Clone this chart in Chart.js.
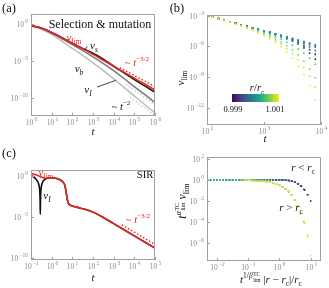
<!DOCTYPE html>
<html>
<head>
<meta charset="utf-8">
<script src="https://cdn.jsdelivr.net/npm/chart.js@4.4.1/dist/chart.umd.min.js"></script>
<style>
html, body { margin: 0; padding: 0; background: #fff; }
#fig { position: relative; width: 329px; height: 288px; overflow: hidden; }
canvas { position: absolute; }
.t { position: absolute; white-space: nowrap; font-family: "Liberation Serif", "DejaVu Serif", serif; line-height: 1; transform: translate(-50%, -50%); color: #111; }
.i { font-style: italic; }
.red { color: #e8261f; }
.rot { transform: translate(-50%, -50%) rotate(-90deg); }
sub, sup { font-size: 68%; line-height: 0; }
.stk { display: inline-flex; flex-direction: column; font-size: 50%; line-height: 1; vertical-align: 7px; margin-left: 0.5px; }
.cbar { position: absolute; left: 232px; top: 94px; width: 47px; height: 8px;
  background: linear-gradient(to right, #440154, #482475, #414487, #355f8d, #2a788e, #21918c, #22a884, #44bf70, #7ad151, #bddf26, #fde725); }
</style>
</head>
<body>
<div id="fig">
  <canvas id="ca" width="164" height="144" style="left:0;top:0"></canvas>
  <canvas id="cb" width="165" height="144" style="left:164px;top:0"></canvas>
  <canvas id="cc" width="164" height="144" style="left:0;top:144px"></canvas>
  <canvas id="cd" width="165" height="144" style="left:164px;top:144px"></canvas>

  <div class="t" style="left:9px;top:8px;font-size:12.5px">(a)</div>
  <div class="t" style="left:100px;top:24px;font-size:12px">Selection &amp; mutation</div>
  <div class="t red" style="left:74px;top:37px;font-size:11px"><span class="i">v</span><sub>lim</sub></div>
  <div class="t" style="left:94px;top:45px;font-size:11px"><span class="i">v<sub>s</sub></span></div>
  <div class="t" style="left:79px;top:68px;font-size:11px"><span class="i">v<sub>b</sub></span></div>
  <div class="t" style="left:88px;top:89px;font-size:11px"><span class="i">v<sub>I</sub></span></div>
  <div class="t red" style="left:137px;top:63px;font-size:10.5px">~ <span class="i">t</span><sup>−3/2</sup></div>
  <div class="t" style="left:121px;top:107px;font-size:10.5px">~ <span class="i">t</span><sup>−2</sup></div>
  <div class="t i" style="left:93px;top:131px;font-size:11px">t</div>

  <div class="t" style="left:177px;top:8px;font-size:12.5px">(b)</div>
  <div class="t rot" style="left:180px;top:78px;font-size:11px"><span class="i">v</span><sub>lim</sub></div>
  <div class="t i" style="left:265px;top:138px;font-size:11px">t</div>
  <div class="t" style="left:257px;top:88px;font-size:10.5px"><span class="i">r</span>/<span class="i">r</span><sub>c</sub></div>
  <div class="cbar"></div>
  <div class="t" style="left:233px;top:109px;font-size:8.5px">0.999</div>
  <div class="t" style="left:275px;top:109px;font-size:8.5px">1.001</div>

  <div class="t" style="left:9px;top:153px;font-size:12.5px">(c)</div>
  <div class="t red" style="left:46px;top:172px;font-size:11px"><span class="i">v</span><sub>lim</sub></div>
  <div class="t" style="left:47px;top:195px;font-size:11px"><span class="i">v<sub>I</sub></span></div>
  <div class="t" style="left:145px;top:175px;font-size:10.5px">SIR</div>
  <div class="t red" style="left:138px;top:220px;font-size:10.5px">~ <span class="i">t</span><sup>−3/2</sup></div>
  <div class="t i" style="left:93px;top:277px;font-size:11px">t</div>

  <div class="t" style="left:303px;top:167px;font-size:11px"><span class="i">r</span> &lt; <span class="i">r</span><sub>c</sub></div>
  <div class="t" style="left:291px;top:207px;font-size:11px"><span class="i">r</span> &gt; <span class="i">r</span><sub>c</sub></div>
  <div class="t rot" style="left:181px;top:201px;font-size:12px"><span class="i">t</span><sup><span class="i">α</span></sup><span class="stk"><span>TC</span><span>lim</span></span> <span class="i">v</span><sub>lim</sub></div>
  <div class="t" style="left:271px;top:278px;font-size:11px"><span class="i">t</span><sup>1/<span class="i">β</span></sup><span class="stk"><span>TC</span><span>lim</span></span> |<span class="i">r</span> − <span class="i">r</span><sub>c</sub>|/<span class="i">r</span><sub>c</sub></div>
</div>

<script>
// ---- panel (a): log10 t and log10 v ----
const aLogT = [0, 0.5, 1, 1.5, 2, 2.5, 3, 3.5, 4, 4.5, 5, 5.5, 6];
const aLim = [-0.2, -0.55, -1.15, -1.85, -2.6, -3.35, -4.1, -4.9, -5.7, -6.5, -7.3, -8.1, -8.9];
const aVs = [-0.2, -0.55, -1.15, -1.85, -2.6, -3.3, -3.95, -4.75, -5.7, -6.6, -7.5, -8.35, -9.2];
const aVb = [-0.25, -0.6, -1.25, -2.0, -2.8, -3.6, -4.45, -5.35, -6.3, -7.35, -8.45, -9.5, -10.6];
const aVi = [-0.3, -0.7, -1.45, -2.35, -3.3, -4.25, -5.25, -6.3, -7.4, -8.55, -9.7, -10.85, -12.0];
const aGuide32 = [[4.3, -5.9], [6, -8.45]];
const aGuide2a = [[4.6, -8.1], [6, -10.9]];
const aGuide2b = [[4.8, -9.9], [6, -12.3]];
const aPointS = [[2.72, -3.05], [2.62, -3.5]];
const aPointI = [[3.2, -8.5], [4.1, -7.6]];
const aXTicks = [0, 1, 2, 3, 4, 5, 6];
const aYTicks = [0, -5, -10];

// ---- panel (b): r/rc values, log10 t grid and log10 v_lim per series ----
const bRatio = [0.999, 0.9992, 0.9994, 0.9996, 0.9998, 0.99995, 1.00005, 1.0002, 1.0004, 1.0006, 1.0008, 1.001];
const bColors = ['#440154', '#482475', '#414487', '#355f8d', '#2a788e', '#23898e', '#1f968b', '#22a884', '#44bf70', '#7ad151', '#bddf26', '#fde725'];
const bLogT = [2.0, 2.1, 2.2, 2.3, 2.4, 2.5, 2.6, 2.7, 2.8, 2.9, 3.0, 3.1, 3.2, 3.3, 3.4, 3.5, 3.6, 3.7, 3.8, 3.9, 4.0];
const bV = [
  [-3.00, -3.15, -3.30, -3.45, -3.60, -3.75, -3.90, -4.05, -4.20, -4.35, -4.49, -4.64, -4.80, -5.00, -5.22, -5.47, -5.78, -6.15, -6.65, -7.25, -8.00],
  [-3.00, -3.15, -3.30, -3.45, -3.60, -3.75, -3.90, -4.05, -4.20, -4.35, -4.50, -4.64, -4.79, -4.95, -5.15, -5.37, -5.62, -5.93, -6.30, -6.80, -7.40],
  [-3.00, -3.15, -3.30, -3.45, -3.60, -3.75, -3.90, -4.05, -4.20, -4.35, -4.50, -4.65, -4.80, -4.94, -5.10, -5.29, -5.50, -5.75, -6.05, -6.40, -6.88],
  [-3.00, -3.15, -3.30, -3.45, -3.60, -3.75, -3.90, -4.05, -4.20, -4.35, -4.50, -4.65, -4.80, -4.95, -5.10, -5.24, -5.40, -5.60, -5.82, -6.07, -6.38],
  [-3.00, -3.15, -3.30, -3.45, -3.60, -3.75, -3.90, -4.05, -4.20, -4.35, -4.50, -4.65, -4.80, -4.95, -5.10, -5.25, -5.40, -5.54, -5.69, -5.85, -6.05],
  [-3.00, -3.15, -3.30, -3.45, -3.60, -3.75, -3.90, -4.05, -4.20, -4.35, -4.50, -4.65, -4.80, -4.95, -5.10, -5.25, -5.40, -5.55, -5.70, -5.85, -6.00],
  [-3.00, -3.15, -3.30, -3.45, -3.60, -3.75, -3.90, -4.05, -4.20, -4.35, -4.50, -4.66, -4.81, -4.97, -5.13, -5.29, -5.46, -5.63, -5.81, -6.00, -6.20],
  [-3.00, -3.15, -3.30, -3.45, -3.60, -3.76, -3.91, -4.07, -4.23, -4.39, -4.56, -4.73, -4.91, -5.10, -5.30, -5.52, -5.76, -6.05, -6.35, -6.70, -7.10],
  [-3.00, -3.15, -3.31, -3.46, -3.62, -3.78, -3.94, -4.11, -4.28, -4.46, -4.65, -4.85, -5.07, -5.31, -5.60, -5.90, -6.25, -6.65, -7.15, -7.75, -8.50],
  [-3.01, -3.16, -3.32, -3.48, -3.64, -3.81, -3.98, -4.16, -4.35, -4.55, -4.77, -5.01, -5.30, -5.60, -5.95, -6.35, -6.85, -7.45, -8.20, -9.05, -9.95],
  [-3.01, -3.17, -3.33, -3.49, -3.66, -3.83, -4.01, -4.20, -4.40, -4.62, -4.86, -5.15, -5.45, -5.80, -6.20, -6.70, -7.30, -8.05, -8.90, -9.95, -11.25],
  [-3.02, -3.18, -3.34, -3.51, -3.68, -3.86, -4.05, -4.25, -4.47, -4.71, -5.00, -5.30, -5.65, -6.05, -6.55, -7.15, -7.90, -8.75, -9.80, -11.25, -13.20]
];
const bXTicks = [2, 3, 4];
const bYTicks = [-3, -6, -9, -12];

// ---- panel (c): SIR, log10 t and log10 v ----
const cLogT = [-1.0, -0.9, -0.8, -0.7, -0.62, -0.58, -0.56, -0.55, -0.54, -0.52, -0.48, -0.42, -0.35, -0.25, -0.1, 0.0, 0.2, 0.35, 0.5, 0.6, 0.65, 0.7, 0.75, 0.8, 0.85, 0.9, 1.0, 1.3, 1.6, 2.0, 2.5, 3.0, 3.5, 4.0, 4.5, 5.0];
const cVi = [0.0, -0.1, -0.3, -0.6, -1.1, -1.8, -3.0, -4.7, -3.0, -1.8, -1.1, -0.7, -0.5, -0.35, -0.27, -0.25, -0.3, -0.42, -0.65, -0.95, -1.3, -2.0, -2.8, -3.3, -3.5, -3.6, -3.7, -3.9, -4.1, -4.45, -5.1, -5.85, -6.6, -7.35, -8.1, -8.85];
const cLimT = [-1.0, -0.8, -0.6, -0.5, -0.4, -0.3, -0.1, 0.0, 0.2, 0.35, 0.5, 0.6, 0.65, 0.7, 0.75, 0.8, 0.85, 0.9, 1.0, 1.3, 1.6, 2.0, 2.5, 3.0, 3.5, 4.0, 4.5, 5.0];
const cLim = [0.3, 0.15, -0.05, -0.15, -0.25, -0.3, -0.27, -0.25, -0.3, -0.42, -0.65, -0.95, -1.3, -2.0, -2.8, -3.3, -3.5, -3.6, -3.7, -3.9, -4.1, -4.45, -5.1, -5.85, -6.6, -7.35, -8.1, -8.85];
const cGuide32 = [[3.4, -6.0], [5.0, -8.4]];
const cXTicks = [-1, 0, 1, 2, 3, 4, 5];
const cYTicks = [0, -5, -10];

// ---- panel (d): rescaling exponents, ticks ----
const dAlpha = 1.5;
const dBeta = 1;
const dXTicks = [-2, -1, 0, 1];
const dYTicks = [2, 0, -2, -4, -6];

const RED = '#e8261f';
const FONT = '"Liberation Serif", "DejaVu Serif", serif';

function pts(lt, lv) {
    return lt.map(function (e, i) { return { x: Math.pow(10, e), y: Math.pow(10, lv[i]) }; });
}
function pairs(p) {
    return p.map(function (q) { return { x: Math.pow(10, q[0]), y: Math.pow(10, q[1]) }; });
}

function drawPow(ctx, exp, x, y, align) {
    const sup = exp < 0 ? '\u2212' + (-exp) : String(exp);
    ctx.font = '7.5px ' + FONT;
    const wb = ctx.measureText('10').width;
    ctx.font = '5.5px ' + FONT;
    const ws = ctx.measureText(sup).width;
    const w = wb + 1.2 + ws;
    const x0 = align === 'right' ? x - w : x - w / 2;
    ctx.textAlign = 'left';
    ctx.textBaseline = 'middle';
    ctx.font = '7.5px ' + FONT;
    ctx.fillText('10', x0, y + 1);
    ctx.font = '5.5px ' + FONT;
    ctx.fillText(sup, x0 + wb + 1.2, y - 2.5);
}

function framePlugin(xExp, yExp) {
    return {
        id: 'frame',
        afterDraw: function (chart) {
            const ctx = chart.ctx;
            const a = chart.chartArea;
            const sx = chart.scales.x;
            const sy = chart.scales.y;
            ctx.save();
            ctx.strokeStyle = '#a0a0a0';
            ctx.lineWidth = 1;
            ctx.strokeRect(Math.round(a.left) + 0.5, Math.round(a.top) + 0.5,
                Math.round(a.right - a.left) - 1, Math.round(a.bottom - a.top) - 1);
            ctx.fillStyle = '#8a8a8a';
            ctx.beginPath();
            xExp.forEach(function (e) {
                const px = Math.round(sx.getPixelForValue(Math.pow(10, e))) + 0.5;
                ctx.moveTo(px, a.bottom);
                ctx.lineTo(px, a.bottom - 3);
                drawPow(ctx, e, px, a.bottom + 6, 'center');
            });
            yExp.forEach(function (e) {
                const py = Math.round(sy.getPixelForValue(Math.pow(10, e))) + 0.5;
                ctx.moveTo(a.left, py);
                ctx.lineTo(a.left + 3, py);
                drawPow(ctx, e, a.left - 3, py, 'right');
            });
            ctx.stroke();
            ctx.restore();
        }
    };
}

function makeChart(id, datasets, xr, yr, pad, xExp, yExp) {
    // later entries are drawn on top
    datasets.forEach(function (ds, i) { ds.order = -i; });
    return new Chart(document.getElementById(id), {
        type: 'scatter',
        data: { datasets: datasets },
        options: {
            responsive: false,
            animation: false,
            devicePixelRatio: 1,
            layout: { padding: pad },
            plugins: { legend: { display: false }, tooltip: { enabled: false } },
            scales: {
                x: { type: 'logarithmic', display: false, min: Math.pow(10, xr[0]), max: Math.pow(10, xr[1]) },
                y: { type: 'logarithmic', display: false, min: Math.pow(10, yr[0]), max: Math.pow(10, yr[1]) }
            }
        },
        plugins: [framePlugin(xExp, yExp)]
    });
}

function line(data, color, width, dash) {
    return {
        data: data, showLine: true, borderColor: color, borderWidth: width,
        borderDash: dash || [], pointRadius: 0, cubicInterpolationMode: 'monotone', fill: false
    };
}

function dots(data, color) {
    return {
        data: data, showLine: false, pointStyle: 'rect', pointRadius: 1.1,
        pointBorderWidth: 0, backgroundColor: color, borderColor: color
    };
}

// (a)
makeChart('ca', [
    line(pts(aLogT, aVi), '#bdbdbd', 1.5),
    line(pts(aLogT, aVb), '#7a7a7a', 1.5),
    line(pairs(aGuide2a), '#c8c8c8', 1.3, [1.5, 2]),
    line(pairs(aGuide2b), '#c8c8c8', 1.3, [1.5, 2]),
    line(pts(aLogT, aVs), '#1a1a1a', 1.6),
    line(pts(aLogT, aLim), RED, 1.6),
    line(pairs(aGuide32), RED, 1.4, [1.5, 2]),
    line(pairs(aPointS), '#111', 0.8),
    line(pairs(aPointI), '#111', 0.8)
], [0, 6], [-12.4, 1.33], { left: 31, top: 14, right: 9, bottom: 28 }, aXTicks, aYTicks);

// (b)
const bSets = bRatio.map(function (r, i) { return dots(pts(bLogT, bV[i]), bColors[i]); });
makeChart('cb', bSets, [2, 4], [-13.65, -2.95], { left: 43, top: 15, right: 8, bottom: 19 }, bXTicks, bYTicks);

// (c)
makeChart('cc', [
    line(pts(cLogT, cVi), '#111', 1.6),
    line(pts(cLimT, cLim), RED, 1.6),
    line(pairs(cGuide32), RED, 1.4, [1.5, 2])
], [-1, 5], [-10.3, 0.7], { left: 31, top: 26, right: 9, bottom: 28 }, cXTicks, cYTicks);

// (d): same data as (b), rescaled by t^alpha and t^(1/beta)|r - rc|/rc
const dSets = bRatio.map(function (r, i) {
    const eps = Math.abs(r - 1);
    const data = bLogT.map(function (lt, j) {
        return { x: Math.pow(10, lt / dBeta) * eps, y: Math.pow(10, dAlpha * lt + bV[i][j]) };
    });
    return dots(data, bColors[i]);
});
makeChart('cd', dSets, [-2.32, 1.33], [-7.71, 2.19], { left: 43, top: 13, right: 8, bottom: 27 }, dXTicks, dYTicks);
</script>
</body>
</html>
